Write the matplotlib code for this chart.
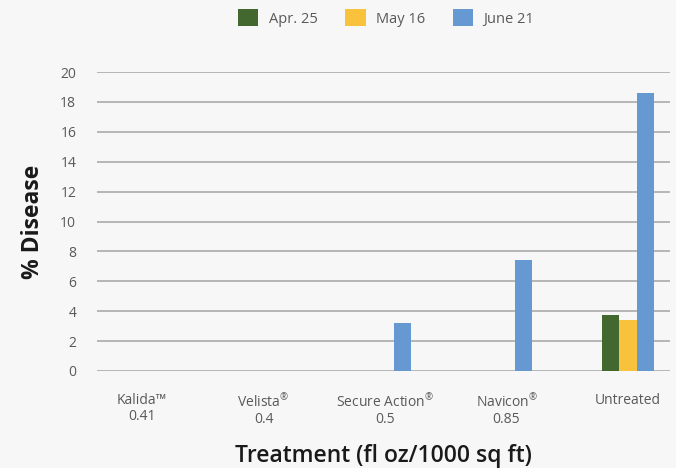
import numpy as np
import matplotlib
matplotlib.use("Agg")
from matplotlib import pyplot as plt

treatments = ["Kalida\u2122\n0.41", "Velista$^{\u00ae}$\n0.4", "Secure Action$^{\u00ae}$\n0.5",
              "Navicon$^{\u00ae}$\n0.85", "Untreated"]
dates = ["Apr. 25", "May 16", "June 21"]
apr25 = [0, 0, 0, 0, 3.75]
may16 = [0, 0, 0, 0, 3.4]
june21 = [0, 0, 3.2, 7.4, 18.6]
colors = ["#426830", "#F8C23D", "#6699D2"]

plt.rcParams['font.family'] = ['Open Sans', 'DejaVu Sans']
plt.rcParams['mathtext.fontset'] = 'custom'
plt.rcParams['mathtext.rm'] = 'Open Sans'
plt.rcParams['mathtext.default'] = 'rm'
bg = "#F7F7F7"
textc = "#595959"

fig = plt.figure(figsize=(6.76, 4.68), dpi=100, facecolor=bg)
ax = fig.add_axes([97 / 676, 1 - 371 / 468, (670 - 97) / 676, (371 - 72) / 468])
ax.set_facecolor(bg)

x = np.arange(len(treatments))
w = 0.14
for i, (vals, lab) in enumerate(zip([apr25, may16, june21], dates)):
    ax.bar(x + (i - 1) * w, vals, w, color=colors[i], label=lab, zorder=3)

ax.set_xlim((97 - 142) / 121.5, (670 - 142) / 121.5)
ax.set_ylim(0, 20)
ax.set_yticks(np.arange(0, 21, 2))
ax.set_xticks(x)
ax.set_xticklabels(treatments, fontsize=9.5, color=textc, linespacing=1.1)
ax.tick_params(axis='both', length=0, labelsize=10, colors=textc)
ax.tick_params(axis='x', pad=16)
ax.tick_params(axis='y', pad=15)
ax.grid(axis='y', color="#ABABAB", linewidth=1.2, zorder=0)
for s in ax.spines.values():
    s.set_visible(False)

ax.set_ylabel("% Disease", fontsize=16.5, fontweight='bold', color="#1a1a1a", labelpad=11)
ax.set_xlabel("Treatment (fl oz/1000 sq ft)", fontsize=16.5, fontweight='semibold',
              color="#1a1a1a", labelpad=12)

leg = fig.legend(loc='center', bbox_to_anchor=(386 / 676, 1 - 18 / 468), ncol=3, frameon=False,
                 fontsize=10.5, handlelength=1.4, handleheight=1.4, columnspacing=1.9,
                 handletextpad=0.7)
for t in leg.get_texts():
    t.set_color(textc)

fig.savefig("out.png", dpi=100, facecolor=bg)
